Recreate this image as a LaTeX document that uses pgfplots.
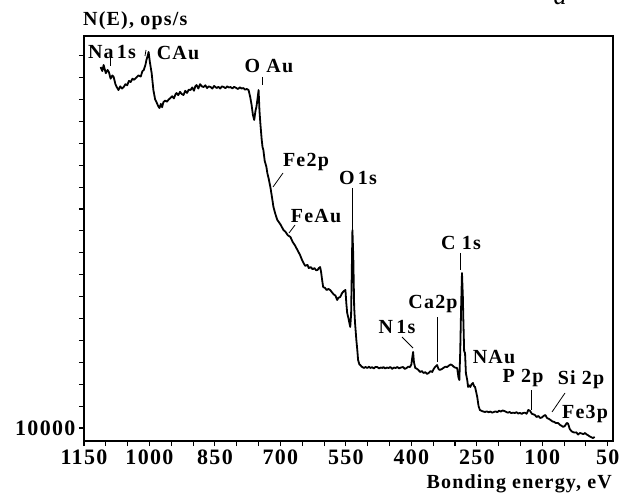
\documentclass[border=0pt]{standalone}
\usepackage{pgfplots}
\pgfplotsset{compat=1.18}
\usepackage{fontspec}
\setmainfont{Liberation Serif}[LetterSpace=6]
\newcommand{\lab}{\bfseries\fontsize{20}{20}\selectfont}
\begin{document}
\begin{tikzpicture}
\useasboundingbox (0pt,0pt) rectangle (620pt,-502pt);
\begin{axis}[
  at={(84pt,-441pt)}, anchor=south west,
  scale only axis, width=529pt, height=405pt,
  x dir=reverse, xmin=-62, xmax=1150, ymin=9406, ymax=27900,
  scaled x ticks=false, scaled y ticks=false,
  axis line style={line width=1.2pt},
  tick align=outside, tick pos=left,
  major tick length=5pt, minor tick length=5pt,
  every tick/.style={line width=1.1pt, black},
  xtick={1150,1000,850,700,550,400,250,100,-50},
  xticklabels={1150,1000,850,700,550,400,250,100,50},
  minor xtick={1100,1050,950,900,800,750,650,600,500,450,350,300,200,150,50,0},
  ytick={10000}, yticklabels={10000},
  minor ytick={11000,12000,...,27000},
  ticklabel style={font=\bfseries\fontsize{22}{22}\selectfont},
  clip=false,
]
\addplot[black, line width=1.8pt, line join=round] table {
1112 26483
1108 26300
1105 26575
1100 26200
1096 26350
1093 26255
1089 25950
1085 26100
1082 26027
1078 25700
1075 25570
1071 25433
1067 25600
1063 25500
1059 25570
1055 25700
1051 25650
1047 25850
1043 25798
1039 25950
1035 25900
1029 26027
1025 26100
1020 26050
1016 26300
1013 26346
1009 26600
1007 26803
1004 27000
1002 27168
999 26700
995 26209
991 25433
987 25000
984 24885
980 24700
977 24611
974 24800
971 24650
968 24885
964 24950
960 24900
956 25000
952 25068
948 25150
944 25050
940 25250
938 25296
934 25200
930 25350
926 25250
922 25205
918 25400
914 25300
910 25450
906 25433
902 25550
898 25400
895 25600
892 25661
888 25500
884 25700
880 25600
876 25570
872 25650
868 25520
864 25600
860 25570
856 25500
852 25620
846 25524
842 25580
838 25500
834 25600
830 25570
826 25520
822 25600
818 25550
814 25570
810 25500
806 25580
801 25524
797 25480
793 25560
789 25500
785 25524
781 25450
777 25480
773 25433
769 25100
766 24748
763 24300
760 24063
757 24500
755 24657
752 25100
750 25433
748 24500
746 23926
743 23200
741 22830
739 22693
736 22200
732 21917
730 21643
727 21400
723 21004
719 20500
716 20100
712 19800
707 19497
700 19300
693 19041
688 18950
683 18800
677 18721
672 18500
667 18350
661 18127
655 17900
651 17700
647 17534
643 17400
638 17450
635 17300
631 17351
626 17250
622 17300
618 17200
615 17214
612 17300
609 17351
607 17150
604 16700
602 16438
598 16400
594 16300
590 16350
586 16301
582 16200
578 16100
574 16050
570 15844
567 15950
563 15981
559 16150
555 16250
551 16301
549 15700
547 15251
544 15000
542 14800
540 14612
538 15200
535 19041
533 17800
531 15525
529 14800
526 14018
524 13600
522 13105
519 12900
517 12877
514 12800
512 12785
509 12740
505 12785
501 12740
497 12800
494 12740
490 12780
486 12720
482 12790
478 12785
474 12720
470 12760
466 12740
464 12785
460 12720
456 12760
452 12740
448 12785
444 12700
440 12760
436 12740
432 12785
428 12720
424 12760
419 12785
415 12700
411 12740
407 12800
403 12785
400 12900
398 13200
396 13470
394 13000
391 12740
387 12700
384 12650
380 12557
376 12600
372 12511
368 12550
364 12466
360 12520
356 12600
352 12557
350 12650
347 12750
345 12800
341 12877
338 12700
335 12650
330 12694
326 12750
322 12800
318 12785
314 12850
310 12900
307 12877
303 12800
299 12750
295 12740
292 12300
290 12192
288 13500
286 15500
284 17077
282 16000
281 15068
279 13500
277 13425
275 12500
272 12192
270 11872
268 11950
265 11872
262 12000
259 12055
256 11900
254 11872
251 11600
249 11415
246 11000
243 10822
239 10780
235 10750
231 10731
227 10760
223 10720
219 10750
215 10700
211 10731
207 10760
203 10720
199 10790
195 10750
191 10800
187 10776
183 10740
179 10700
175 10730
171 10680
167 10700
163 10685
159 10720
155 10660
151 10690
147 10640
144 10685
140 10700
136 10650
132 10822
128 10780
124 10650
120 10620
117 10594
113 10500
109 10550
105 10457
101 10480
97 10550
93 10594
89 10450
85 10420
81 10365
77 10300
73 10280
69 10228
64 10228
60 10150
56 10100
52 10046
48 10100
44 10228
41 10200
37 9950
33 9850
30 9817
26 9790
22 9800
18 9700
14 9772
10 9750
6 9720
2 9772
-2 9700
-4 9680
-8 9620
-12 9580
-16 9543
-20 9589
};
\end{axis}
% titles
\node[anchor=west, font=\lab, inner sep=0pt] at (83pt,-21pt) {N(E), ops/s};
\node[anchor=east, font=\lab, inner sep=0pt] at (612pt,-484pt) {Bonding energy, eV};
\node[anchor=base, font=\itshape\fontsize{26}{26}\selectfont, inner sep=0pt] at (560pt,-5pt) {a};
% peak labels
\begin{scope}[every node/.style={font=\lab, inner sep=0pt}, line width=0.8pt]
\node at (112pt,-52pt) {Na\,1s};
\draw (110pt,-58pt) -- (110pt,-66pt);
\node at (178pt,-53pt) {CAu};
\draw (146pt,-50pt) -- (145pt,-56pt);
\node at (269pt,-66pt) {O Au};
\draw (262pt,-77pt) -- (262pt,-85pt);
\node at (306pt,-162pt) {Fe2p};
\draw (283pt,-173pt) -- (273pt,-187pt);
\node at (358pt,-178pt) {O\,1s};
\draw (352pt,-188pt) -- (352pt,-230pt);
\node at (316pt,-216pt) {FeAu};
\draw (295pt,-225pt) -- (289pt,-233pt);
\node at (461pt,-243pt) {C 1s};
\draw (460pt,-253pt) -- (460pt,-270pt);
\node at (433pt,-304pt) {Ca2p};
\draw (437pt,-317pt) -- (437pt,-362pt);
\node at (397pt,-327pt) {N\,1s};
\draw (402pt,-337pt) -- (413pt,-348pt);
\node at (494pt,-357pt) {NAu};
\node at (523pt,-378pt) {P 2p};
\draw (531pt,-390pt) -- (531pt,-410pt);
\node at (581pt,-380pt) {Si 2p};
\draw (565pt,-393pt) -- (552pt,-412pt);
\node at (585pt,-414pt) {Fe3p};
\end{scope}
\end{tikzpicture}
\end{document}
